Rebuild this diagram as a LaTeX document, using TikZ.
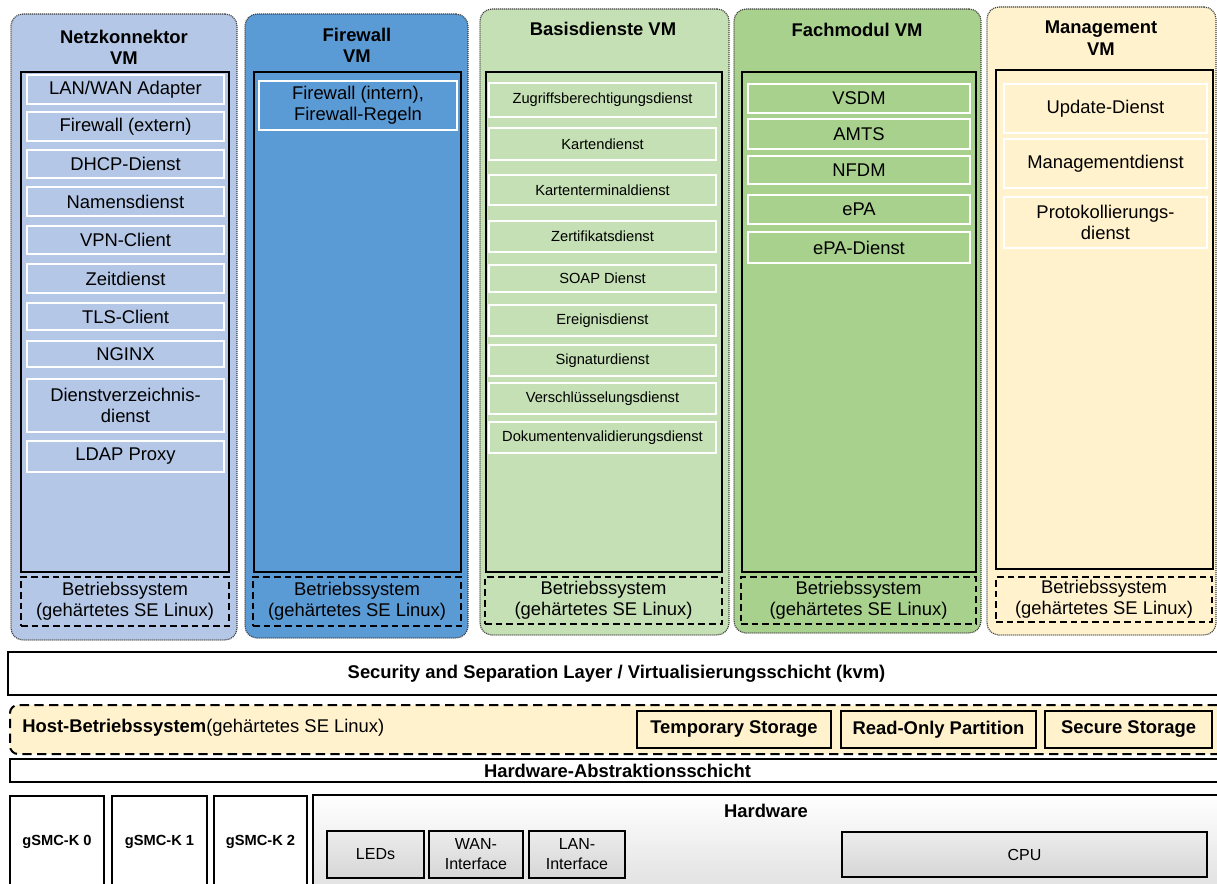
\documentclass[tikz,border=0pt]{standalone}
\usepackage{fontspec}
\setmainfont{Liberation Sans}
\definecolor{cNetz}{HTML}{B4C7E7}
\definecolor{cFw}{HTML}{5B9BD5}
\definecolor{cBasis}{HTML}{C5E0B4}
\definecolor{cFach}{HTML}{A9D18E}
\definecolor{cMgmt}{HTML}{FFF2CC}
\newcommand\fA{\fontsize{13.8}{16}\selectfont}
\newcommand\fB{\fontsize{11}{13}\selectfont}
\newcommand\fC{\fontsize{12}{15}\selectfont}
\newcommand\fD{\fontsize{11}{13}\selectfont\bfseries}
\newcommand\bx[7]{\node[#6, minimum width={(#4-#2)*0.75pt}, minimum height={(#5-#3)*0.75pt}] (#1) at ({(#2+#4)/2},{(#3+#5)/2}) {#7};}
\begin{document}
\begin{tikzpicture}[x=0.75pt,y=-0.75pt,
  vmouter/.style={draw=black!75, line width=0.9pt, dash pattern=on 0.8pt off 0.7pt, rounded corners=9pt, inner sep=0, outer sep=0},
  vminner/.style={draw=black, line width=1.2pt, inner sep=0, outer sep=0},
  item/.style={draw=white, line width=1.1pt, inner sep=0, outer sep=0, align=center, font=\fA},
  itemsm/.style={item, font=\fB},
  osbox/.style={draw=black, line width=1.1pt, dash pattern=on 5pt off 3pt, inner sep=0, outer sep=0, align=center, font=\fA},
  title/.style={font=\fA\bfseries, align=center, inner sep=0},
  layer/.style={draw=black, line width=1pt, fill=white, inner sep=0, outer sep=0, font=\fA\bfseries},
  store/.style={draw=black, line width=1pt, fill=cMgmt, inner sep=0, outer sep=0, font=\fA\bfseries},
  smc/.style={draw=black, line width=1pt, fill=white, inner sep=0, outer sep=0, font=\fD},
  hwbox/.style={draw=black, line width=1pt, top color=gray!15, bottom color=gray!32, inner sep=0, outer sep=0, font=\fC, align=center}
]
\clip (0,0) rectangle (1217,883);
\fill[white] (0,0) rectangle (1217,883);

% ---------- Netzkonnektor VM ----------
\bx{netz}{11}{14}{237}{640}{vmouter, fill=cNetz}{}
\node[title] (netzT) at (124,47) {Netzkonnektor\\VM};
\bx{netzI}{21}{72}{229}{572}{vminner}{}
\bx{n1}{27}{75}{224}{104}{item,fill=cNetz}{LAN/WAN Adapter}
\bx{n2}{27}{112}{224}{141}{item,fill=cNetz}{Firewall (extern)}
\bx{n3}{27}{150}{224}{178}{item,fill=cNetz}{DHCP-Dienst}
\bx{n4}{27}{187}{224}{216}{item,fill=cNetz}{Namensdienst}
\bx{n5}{27}{226}{224}{254}{item,fill=cNetz}{VPN-Client}
\bx{n6}{27}{264}{224}{293}{item,fill=cNetz}{Zeitdienst}
\bx{n7}{27}{303}{224}{330}{item,fill=cNetz}{TLS-Client}
\bx{n8}{27}{341}{224}{367}{item,fill=cNetz}{NGINX}
\bx{n9}{27}{379}{224}{432}{item,fill=cNetz}{Dienstverzeichnis-\\dienst}
\bx{n10}{27}{441}{224}{472}{item,fill=cNetz}{LDAP Proxy}
\bx{netzOS}{21}{577}{229}{626}{osbox}{Betriebssystem\\(gehärtetes SE Linux)}

% ---------- Firewall VM ----------
\bx{fw}{245}{14}{468}{638}{vmouter, fill=cFw}{}
\node[title] (fwT) at (357,45) {Firewall\\VM};
\bx{fwI}{254}{72}{461}{572}{vminner}{}
\bx{f1}{259}{81}{457}{130}{item,fill=cFw}{Firewall (intern),\\Firewall-Regeln}
\bx{fwOS}{253}{577}{461}{626}{osbox}{Betriebssystem\\(gehärtetes SE Linux)}

% ---------- Basisdienste VM ----------
\bx{bas}{480}{9}{729}{635}{vmouter, fill=cBasis}{}
\node[title] (basT) at (603,29) {Basisdienste VM};
\bx{basI}{486}{72}{722}{572}{vminner}{}
\bx{b1}{489}{83}{716}{117}{itemsm,fill=cBasis}{Zugriffsberechtigungsdienst}
\bx{b2}{489}{128}{716}{160}{itemsm,fill=cBasis}{Kartendienst}
\bx{b3}{489}{175}{716}{205}{itemsm,fill=cBasis}{Kartenterminaldienst}
\bx{b4}{489}{221}{716}{252}{itemsm,fill=cBasis}{Zertifikatsdienst}
\bx{b5}{489}{265}{716}{292}{itemsm,fill=cBasis}{SOAP Dienst}
\bx{b6}{489}{305}{716}{336}{itemsm,fill=cBasis}{Ereignisdienst}
\bx{b7}{489}{345}{716}{376}{itemsm,fill=cBasis}{Signaturdienst}
\bx{b8}{489}{383}{716}{414}{itemsm,fill=cBasis}{Verschlüsselungsdienst}
\bx{b9}{489}{422}{716}{453}{itemsm,fill=cBasis}{Dokumentenvalidierungsdienst}
\bx{basOS}{485}{577}{722}{624}{osbox}{Betriebssystem\\(gehärtetes SE Linux)}

% ---------- Fachmodul VM ----------
\bx{fach}{734}{9}{981}{633}{vmouter, fill=cFach}{}
\node[title] (fachT) at (857,30) {Fachmodul VM};
\bx{fachI}{742}{72}{976}{572}{vminner}{}
\bx{m1}{748}{84}{970}{113}{item,fill=cFach}{VSDM}
\bx{m2}{748}{119}{970}{149}{item,fill=cFach}{AMTS}
\bx{m3}{748}{156}{970}{184}{item,fill=cFach}{NFDM}
\bx{m4}{748}{195}{970}{224}{item,fill=cFach}{ePA}
\bx{m5}{748}{232}{970}{263}{item,fill=cFach}{ePA-Dienst}
\bx{fachOS}{741}{577}{976}{624}{osbox}{Betriebssystem\\(gehärtetes SE Linux)}

% ---------- Management VM ----------
\bx{mgmt}{987}{7}{1216}{635}{vmouter, fill=cMgmt}{}
\node[title] (mgmtT) at (1101,38) {Management\\VM};
\bx{mgmtI}{996}{70}{1213}{569}{vminner}{}
\bx{g1}{1004}{84}{1207}{133}{item,fill=cMgmt}{Update-Dienst}
\bx{g2}{1004}{139}{1207}{188}{item,fill=cMgmt}{Managementdienst}
\bx{g3}{1004}{197}{1207}{248}{item,fill=cMgmt}{Protokollierungs-\\dienst}
\bx{mgmtOS}{996}{577}{1212}{622}{osbox}{Betriebssystem\\(gehärtetes SE Linux)}

% ---------- Layers ----------
\bx{sec}{8}{652}{1225}{695}{layer}{Security and Separation Layer / Virtualisierungsschicht (kvm)}
\bx{host}{10}{705}{1225}{754}{draw=black, line width=1.5pt, dash pattern=on 7pt off 4pt, rounded corners=6pt, fill=cMgmt, inner sep=0, outer sep=0}{}
\node[anchor=west, font=\fA, inner sep=0] (hostT) at (22,728) {\textbf{Host-Betriebssystem}(gehärtetes SE Linux)};
\bx{tmp}{637}{711}{831}{748}{store}{Temporary Storage}
\bx{rop}{841}{711}{1036}{748}{store}{Read-Only Partition}
\bx{sst}{1045}{711}{1212}{748}{store}{Secure Storage}
\bx{hal}{10}{759}{1225}{782}{layer}{Hardware-Abstraktionsschicht}

% ---------- Hardware ----------
\bx{smc0}{10}{796}{104}{888}{smc}{gSMC-K 0}
\bx{smc1}{112}{796}{207}{888}{smc}{gSMC-K 1}
\bx{smc2}{214}{796}{307}{888}{smc}{gSMC-K 2}
\bx{hw}{313}{795}{1225}{895}{draw=black, line width=1pt, top color=white, bottom color=gray!25, inner sep=0, outer sep=0}{}
\node[font=\fA\bfseries, inner sep=0] (hwT) at (766,811) {Hardware};
\bx{leds}{327}{831}{424}{878}{hwbox}{LEDs}
\bx{wan}{429}{831}{523}{878}{hwbox}{WAN-\\Interface}
\bx{lan}{529}{831}{625}{878}{hwbox}{LAN-\\Interface}
\bx{cpu}{842}{832}{1207}{877}{hwbox}{CPU}
\end{tikzpicture}
\end{document}
